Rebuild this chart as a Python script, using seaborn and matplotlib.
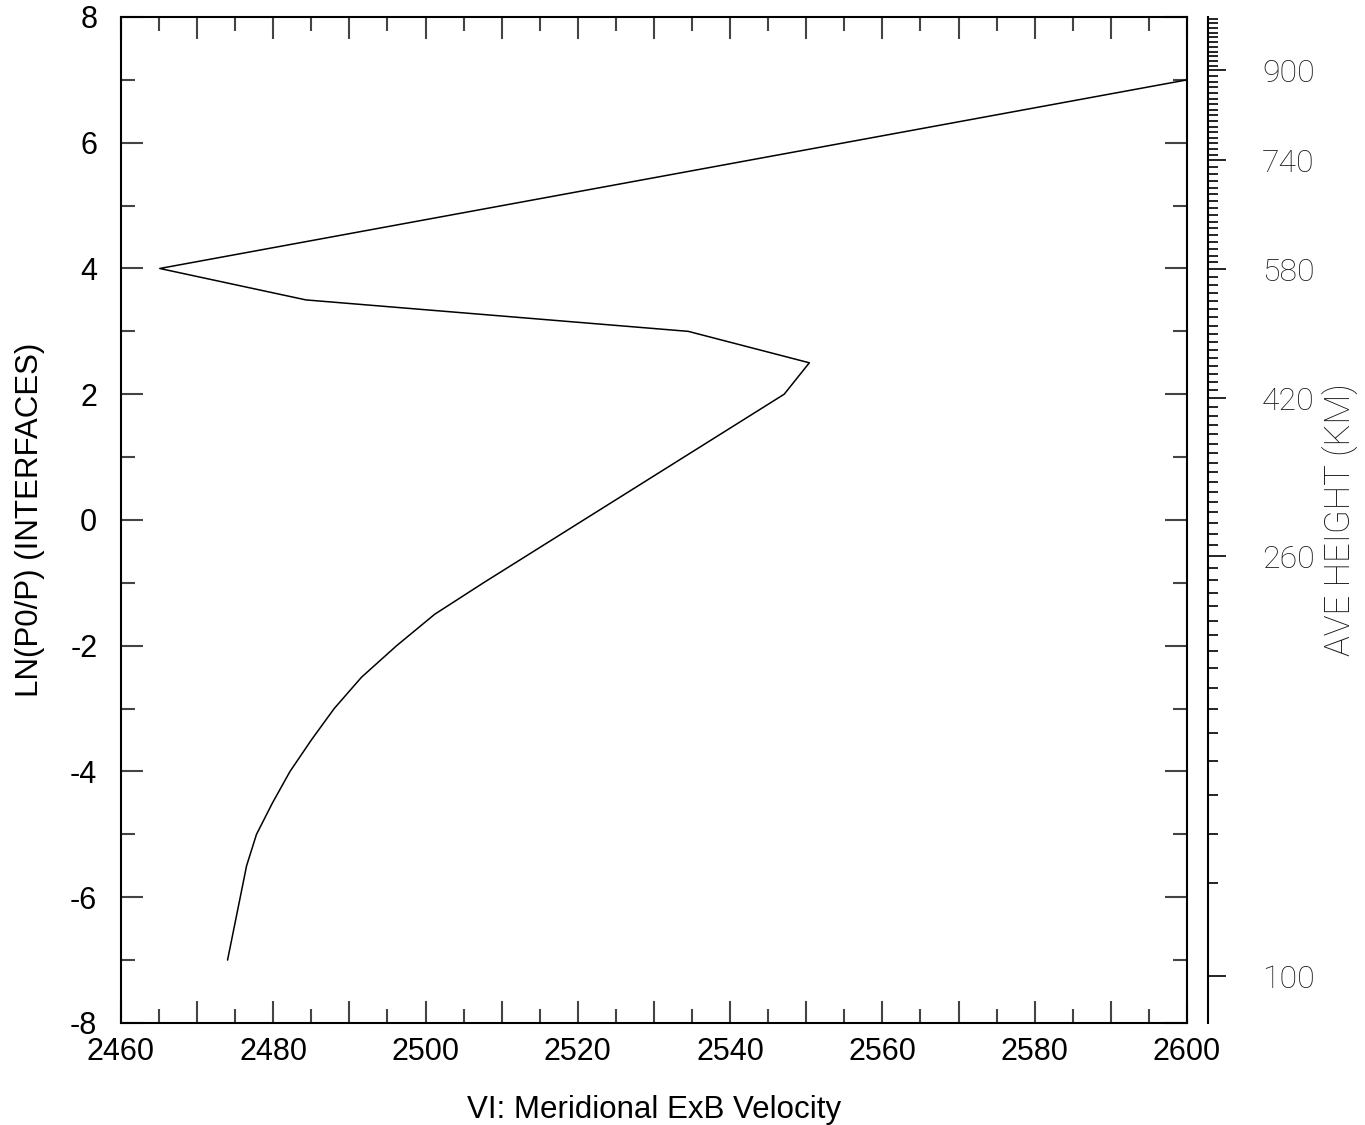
import numpy as np
import pandas as pd
import matplotlib
matplotlib.use("Agg")
import matplotlib.pyplot as plt
from matplotlib.ticker import MultipleLocator, FixedLocator, FuncFormatter
import seaborn as sns

# profile
ln_p = [7.0, 4.0, 3.5, 3.0, 2.5, 2.0, -1.0, -1.5, -2.0, -2.5, -3.0, -3.5,
        -4.0, -4.5, -5.0, -5.5, -7.0]
velocity = [2600.0, 2465.1, 2484.3, 2534.5, 2550.4, 2547.1, 2507.6, 2501.2,
            2496.2, 2491.6, 2488.0, 2485.0, 2482.2, 2479.9, 2477.8, 2476.5,
            2474.0]

# height axis calibration (km vs ln(p0/p))
cal_height = [90, 100, 110, 120, 130, 140, 150, 160, 170, 180, 190, 200, 220,
              240, 260, 300, 340, 380, 420, 580, 740, 900, 1000, 1100]
cal_ln = [-9.0, -7.254, -5.769, -4.989, -4.369, -3.839, -3.389, -3.008,
          -2.667, -2.356, -2.085, -1.836, -1.374, -0.961, -0.574, 0.126,
          0.762, 1.361, 1.939, 3.99, 5.72, 7.15, 7.90, 8.60]
height_labels = [100, 260, 420, 580, 740, 900]

df = pd.DataFrame({"lnp": ln_p, "vel": velocity})

sns.set_style("ticks")
plt.rcParams["font.family"] = ["Liberation Sans", "DejaVu Sans"]
plt.rcParams["text.color"] = "black"
plt.rcParams["axes.labelcolor"] = "black"

fig = plt.figure(figsize=(13.65, 11.25), dpi=100)
ax = fig.add_axes([0.0886, 0.0907, 0.781, 0.8942])

sns.lineplot(data=df, x="vel", y="lnp", sort=False, estimator=None,
             color="black", linewidth=1.1, ax=ax)

ax.set_xlim(2460, 2600)
ax.set_ylim(-8, 8)

ax.xaxis.set_major_locator(MultipleLocator(10))
ax.xaxis.set_minor_locator(MultipleLocator(5))
ax.xaxis.set_major_formatter(FuncFormatter(lambda v, p: f"{v:.0f}" if round(v) % 20 == 0 else ""))
ax.yaxis.set_major_locator(MultipleLocator(2))
ax.yaxis.set_minor_locator(MultipleLocator(1))
ax.yaxis.set_major_formatter(FuncFormatter(lambda v, p: f"{v:.0f}"))

ax.tick_params(axis="both", which="both", direction="in", top=True, right=True,
               color="#444444", width=1.5, labelsize=22, labelcolor="black")
ax.tick_params(axis="both", which="major", length=16)
ax.tick_params(axis="both", which="minor", length=10)
ax.tick_params(axis="x", which="major", pad=10)
ax.tick_params(axis="y", which="major", pad=17)
for s in ax.spines.values():
    s.set_color("black")
    s.set_linewidth(1.5)

ax.set_xlabel("VI: Meridional ExB Velocity", fontsize=22.5, labelpad=20)
ax.set_ylabel("LN(P0/P) (INTERFACES)", fontsize=22.5, labelpad=18)


def ln_to_height(v):
    return np.interp(v, cal_ln, cal_height)


def height_to_ln(h):
    return np.interp(h, cal_height, cal_ln)


sec = ax.secondary_yaxis(1.0197, functions=(ln_to_height, height_to_ln))
sec.yaxis.set_major_locator(FixedLocator(height_labels))
sec.yaxis.set_minor_locator(MultipleLocator(10))
sec.tick_params(axis="y", which="both", direction="out", color="black", width=1.2,
                labelsize=23, labelcolor="#1a1a1a", pad=26)
sec.tick_params(axis="y", which="major", length=13)
sec.tick_params(axis="y", which="minor", length=7)
sec.spines["right"].set_linewidth(1.5)
sec.spines["right"].set_color("black")
for lbl in sec.get_yticklabels():
    lbl.set_fontfamily(["Roboto", "DejaVu Sans"])
    lbl.set_fontweight("light")
sec.set_ylabel("AVE HEIGHT (KM)", fontsize=25, color="#1a1a1a",
               fontfamily=["Roboto", "DejaVu Sans"], fontweight="light", labelpad=6)

fig.savefig("out.png", dpi=100)
